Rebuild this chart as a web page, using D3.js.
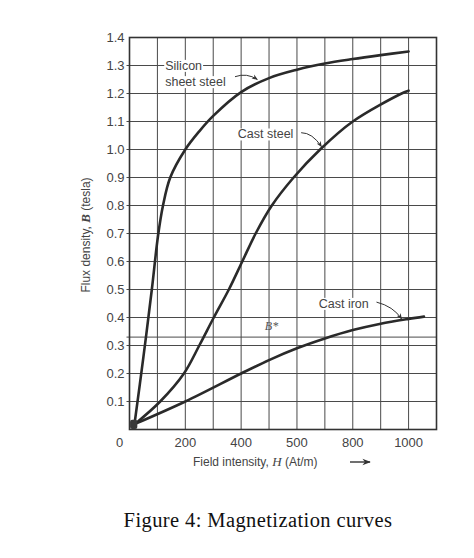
<!DOCTYPE html>
<html>
<head>
<meta charset="utf-8">
<script src="https://cdn.jsdelivr.net/npm/d3@7"></script>
<style>
  body { margin: 0; background: #fff; }
  .tick-label { font-family: "Liberation Sans", Arial, sans-serif; fill: #444; }
  .curve { fill: none; stroke: #2a2a2a; stroke-width: 2.6; stroke-linecap: round; stroke-linejoin: round; }
  .grid { stroke: #4a4a4a; stroke-width: 1; }
  .curve-label { font-family: "Liberation Sans", Arial, sans-serif; font-size: 12.5px; fill: #444; }
</style>
</head>
<body>
<div id="chart"></div>
<script>
// x ticks (the book prints "500" where 600 belongs)
const xTickValues = [0, 200, 400, 600, 800, 1000];
const xTickLabels = ["0", "200", "400", "500", "800", "1000"];
const yTickValues = [0.1, 0.2, 0.3, 0.4, 0.5, 0.6, 0.7, 0.8, 0.9, 1.0, 1.1, 1.2, 1.3, 1.4];
const yTickLabels = ["0.1", "0.2", "0.3", "0.4", "0.5", "0.6", "0.7", "0.8", "0.9", "1.0", "1.1", "1.2", "1.3", "1.4"];

const siliconH = [18, 50, 80, 102, 120, 146, 200, 250, 300, 400, 500, 600, 700, 800, 900, 1000];
const siliconB = [0.02, 0.26, 0.50, 0.69, 0.80, 0.90, 1.00, 1.065, 1.12, 1.205, 1.255, 1.285, 1.307, 1.323, 1.337, 1.35];

const castSteelH = [20, 110, 195, 250, 302, 356, 404, 452, 510, 588, 683, 800, 975, 1000];
const castSteelB = [0.02, 0.10, 0.20, 0.30, 0.40, 0.50, 0.60, 0.70, 0.80, 0.90, 1.00, 1.10, 1.20, 1.21];

const castIronH = [20, 200, 400, 500, 600, 700, 800, 900, 1000, 1055];
const castIronB = [0.02, 0.10, 0.20, 0.248, 0.29, 0.325, 0.355, 0.378, 0.395, 0.403];

const bStar = 0.33;

const width = 474;
const height = 558;

const svg = d3.select("#chart").append("svg")
  .attr("width", width)
  .attr("height", height);

const x = d3.scaleLinear().domain([0, 1100]).range([129.5, 436.5]);
const y = d3.scaleLinear().domain([0, 1.4]).range([429.5, 37.5]);

// grid
svg.selectAll(".vgrid")
  .data(d3.range(100, 1100, 100))
  .enter().append("line")
  .attr("class", "grid")
  .attr("x1", d => x(d)).attr("x2", d => x(d))
  .attr("y1", y(0)).attr("y2", y(1.4));

svg.selectAll(".hgrid")
  .data(yTickValues.slice(0, -1).concat([bStar]))
  .enter().append("line")
  .attr("class", "grid")
  .attr("x1", x(0) - 3).attr("x2", x(1100))
  .attr("y1", d => y(d)).attr("y2", d => y(d));

svg.append("rect")
  .attr("x", x(0)).attr("y", y(1.4))
  .attr("width", x(1100) - x(0)).attr("height", y(0) - y(1.4))
  .attr("fill", "none").attr("stroke", "#333").attr("stroke-width", 1.6);

// tick labels
svg.selectAll(".xlab")
  .data(xTickValues)
  .enter().append("text")
  .attr("class", "tick-label")
  .attr("x", d => x(d) + (d === 0 ? -10 : 0))
  .attr("y", 447)
  .attr("text-anchor", "middle")
  .attr("font-size", "13px")
  .text((d, i) => xTickLabels[i]);

svg.selectAll(".ylab")
  .data(yTickValues)
  .enter().append("text")
  .attr("class", "tick-label")
  .attr("x", x(0) - 5)
  .attr("y", d => y(d))
  .attr("dy", "0.35em")
  .attr("text-anchor", "end")
  .attr("font-size", "13px")
  .text((d, i) => yTickLabels[i]);

// axis titles
const xTitle = svg.append("text")
  .attr("class", "tick-label")
  .attr("x", 193).attr("y", 466)
  .attr("font-size", "12px");
xTitle.append("tspan").text("Field intensity, ");
xTitle.append("tspan").attr("font-family", "Liberation Serif, serif").attr("font-style", "italic").attr("font-size", "13px").text("H");
xTitle.append("tspan").text(" (At/m)");

svg.append("defs").append("marker")
  .attr("id", "head")
  .attr("viewBox", "0 0 10 10")
  .attr("refX", 9).attr("refY", 5)
  .attr("markerWidth", 6).attr("markerHeight", 6)
  .attr("orient", "auto-start-reverse")
  .append("path")
  .attr("d", "M0,1 L10,5 L0,9 L3,5 Z")
  .attr("fill", "#333");

svg.append("line")
  .attr("x1", 350).attr("x2", 370)
  .attr("y1", 462).attr("y2", 462)
  .attr("stroke", "#333").attr("stroke-width", 1.4)
  .attr("marker-end", "url(#head)");

const yTitle = svg.append("text")
  .attr("class", "tick-label")
  .attr("transform", "translate(90,235) rotate(-90)")
  .attr("text-anchor", "middle")
  .attr("font-size", "12px");
yTitle.append("tspan").text("Flux density, ");
yTitle.append("tspan").attr("font-family", "Liberation Serif, serif").attr("font-style", "italic").attr("font-weight", "bold").attr("font-size", "13px").text("B");
yTitle.append("tspan").text(" (tesla)");

// curves
const line = d3.line()
  .x(d => x(d[0]))
  .y(d => y(d[1]))
  .curve(d3.curveCatmullRom.alpha(0.5));

const series = [
  [siliconH, siliconB],
  [castSteelH, castSteelB],
  [castIronH, castIronB]
];

svg.selectAll(".curve")
  .data(series)
  .enter().append("path")
  .attr("class", "curve")
  .attr("d", s => line(s[0].map((h, i) => [h, s[1][i]])));

// where the curves meet near the origin
svg.append("rect")
  .attr("x", x(2)).attr("y", y(0.035))
  .attr("width", x(28) - x(2)).attr("height", y(0.002) - y(0.035))
  .attr("rx", 2)
  .attr("fill", "#3a3a3a");

// labels with white backing
function label(text, h, b) {
  const t = svg.append("text")
    .attr("class", "curve-label")
    .attr("x", x(h)).attr("y", y(b))
    .attr("dy", "0.35em")
    .text(text);
  const bb = t.node().getBBox();
  svg.insert("rect", "text.curve-label")
    .attr("x", bb.x - 1).attr("y", bb.y + 1)
    .attr("width", bb.width + 2).attr("height", bb.height - 2)
    .attr("fill", "#fff");
}

label("Silicon", 128, 1.30);
label("sheet steel", 128, 1.242);
label("Cast steel", 388, 1.055);
label("Cast iron", 678, 0.45);

svg.append("text")
  .attr("x", x(485)).attr("y", y(0.37))
  .attr("dy", "0.35em")
  .attr("font-family", "Liberation Serif, serif")
  .attr("font-style", "italic")
  .attr("font-size", "12px")
  .attr("fill", "#555")
  .text("B*");

// pointer arrows from labels to curves
const pointers = [
  [[378, 1.26], [420, 1.275], [458, 1.25]],
  [[615, 1.06], [655, 1.06], [688, 1.01]],
  [[885, 0.455], [945, 0.44], [975, 0.395]]
];

svg.selectAll(".pointer")
  .data(pointers)
  .enter().append("path")
  .attr("fill", "none")
  .attr("stroke", "#333")
  .attr("stroke-width", 1)
  .attr("marker-end", "url(#head)")
  .attr("d", p => `M${x(p[0][0])},${y(p[0][1])} Q${x(p[1][0])},${y(p[1][1])} ${x(p[2][0])},${y(p[2][1])}`);

// caption
svg.append("text")
  .attr("x", 258).attr("y", 527)
  .attr("text-anchor", "middle")
  .attr("font-family", "Liberation Serif, 'DejaVu Serif', serif")
  .attr("font-size", "20.5px")
  .attr("letter-spacing", "0.4px")
  .attr("fill", "#111")
  .text("Figure 4: Magnetization curves");
</script>
</body>
</html>
